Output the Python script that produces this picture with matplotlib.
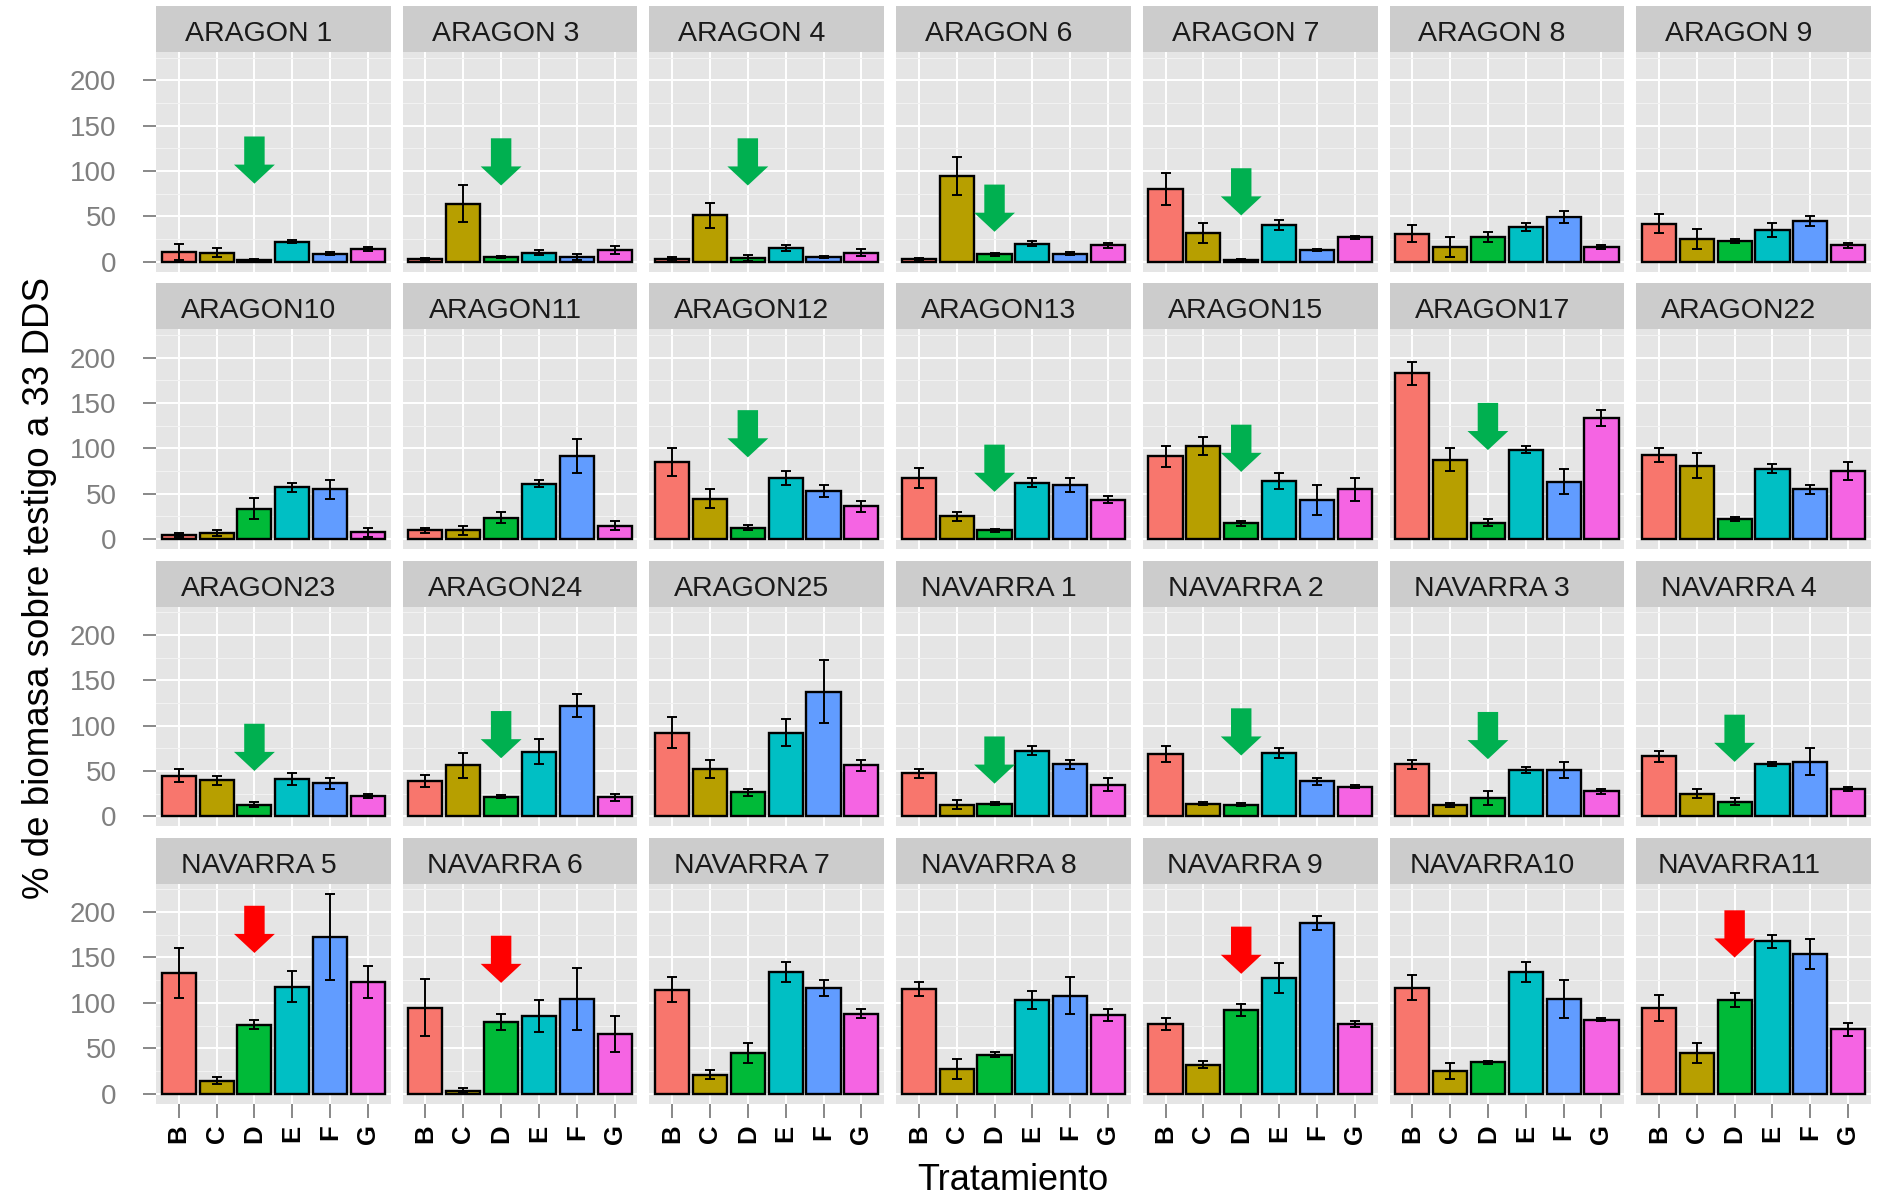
import numpy as np
import matplotlib
matplotlib.use("Agg")
import matplotlib.pyplot as plt
from matplotlib.patches import Rectangle

plt.rcParams['font.family'] = ['Liberation Sans', 'DejaVu Sans']

# data (% biomass vs control, mean and error)
treatments = ['B', 'C', 'D', 'E', 'F', 'G']
sites = ["ARAGON 1", "ARAGON 3", "ARAGON 4", "ARAGON 6", "ARAGON 7", "ARAGON 8", "ARAGON 9",
         "ARAGON10", "ARAGON11", "ARAGON12", "ARAGON13", "ARAGON15", "ARAGON17", "ARAGON22",
         "ARAGON23", "ARAGON24", "ARAGON25", "NAVARRA 1", "NAVARRA 2", "NAVARRA 3", "NAVARRA 4",
         "NAVARRA 5", "NAVARRA 6", "NAVARRA 7", "NAVARRA 8", "NAVARRA 9", "NAVARRA10", "NAVARRA11"]

means = [
    [11, 10, 2, 22, 9, 14],
    [3, 64, 5, 10, 5, 13],
    [3, 51, 4, 15, 5, 10],
    [3, 94, 8, 20, 9, 18],
    [80, 32, 2, 40, 13, 27],
    [31, 16.5, 27.5, 38, 49, 16],
    [42, 25, 23, 35, 45, 18],
    [4.5, 6.5, 33.5, 57, 54.7, 7.3],
    [9.5, 9.5, 23.5, 61, 91, 14.7],
    [84.8, 44.6, 12.5, 67.3, 53, 36],
    [67, 25, 9.5, 62, 59.8, 43.5],
    [91, 102.4, 17.2, 63.5, 43.4, 54.7],
    [182.4, 87.3, 18, 98.5, 63.3, 133.6],
    [92.3, 81, 22, 77.2, 54.7, 74.7],
    [44.8, 39.9, 12.6, 41, 36.2, 22.5],
    [38.6, 56, 21.5, 71, 122, 21],
    [92.3, 52.5, 26.3, 92, 137.3, 56],
    [47.3, 12.6, 14, 72.4, 57.4, 35],
    [68.7, 14, 13, 69.8, 38.5, 32.5],
    [57.4, 12.6, 20, 51, 51, 27.4],
    [66, 25, 16.2, 57.4, 60, 30],
    [133.1, 14.4, 75.7, 118, 172.8, 122.9],
    [94.4, 3.3, 79.4, 85.6, 104.4, 65.6],
    [114.3, 20.7, 44.4, 134.2, 116.6, 88.1],
    [115.4, 27, 43, 103, 108, 86.8],
    [76.8, 32, 92, 126.9, 187.7, 76.8],
    [116.6, 24.5, 34.5, 134.2, 104.2, 81.5],
    [94.3, 44.4, 102.9, 167.8, 154.1, 70.7],
]
errs = [
    [9, 5, 1, 1.5, 2, 2.5],
    [1, 20, 1, 3, 3, 4],
    [2, 14, 3, 3, 1, 4],
    [1, 21, 2, 3, 2, 3],
    [17.7, 11, 0.5, 5.5, 1, 1.5],
    [9, 11, 5.5, 4.5, 6.5, 2],
    [10.5, 10.7, 2.5, 7.6, 5.5, 2.5],
    [2.6, 3.3, 11.5, 5, 10.3, 5],
    [2.5, 5, 6.3, 4, 18.7, 5],
    [15, 10, 2.5, 7.5, 6.4, 6.4],
    [11, 5, 2, 5, 7.5, 4],
    [11.4, 10.3, 2.5, 8.8, 16.4, 12.4],
    [12.5, 12.5, 3.7, 4, 13.8, 8.8],
    [7.5, 14, 2.5, 5, 5, 10],
    [7.5, 5, 2.7, 6.4, 6.2, 2.4],
    [6.4, 13.7, 1.7, 13.7, 12.4, 3.6],
    [17.4, 10, 3.6, 15, 34.9, 6.4],
    [5, 5, 1.5, 5, 5, 7.5],
    [8.8, 1.5, 1.5, 5, 4, 1.5],
    [5, 2.5, 7.5, 3.7, 8.8, 2.5],
    [6.2, 5, 3.8, 2.5, 15, 2.5],
    [27.8, 3.8, 5, 17.5, 47.3, 17.5],
    [31.4, 2.5, 8.8, 17.5, 33.8, 20],
    [13.7, 5, 11.2, 11.3, 8.8, 5],
    [7.5, 11.3, 2.5, 10, 20, 6.4],
    [6.2, 3.8, 6.4, 16.5, 7.5, 3.7],
    [13.9, 8.8, 1.5, 11.3, 21.2, 1.5],
    [13.9, 11.2, 7.5, 7.3, 16.3, 7.5],
]

# annotation arrows above treatment D: site, tip height, colour
arrow_sites = ["ARAGON 1", "ARAGON 3", "ARAGON 4", "ARAGON 6", "ARAGON 7", "ARAGON12", "ARAGON13",
               "ARAGON15", "ARAGON17", "ARAGON23", "ARAGON24", "NAVARRA 1", "NAVARRA 2",
               "NAVARRA 3", "NAVARRA 4", "NAVARRA 5", "NAVARRA 6", "NAVARRA 9", "NAVARRA11"]
arrow_tips = [86, 84, 84, 33, 51, 90, 52, 74, 98, 50, 64, 36, 67, 63, 60, 155, 122, 132, 150]
arrow_cols = ['#00B050'] * 15 + ['#FF0000'] * 4

colors = ['#F8766D', '#B79F00', '#00BA38', '#00BFC4', '#619CFF', '#F564E3']

W, H = 1878, 1196
fig = plt.figure(figsize=(W / 100, H / 100), dpi=100)

x = np.arange(1, len(treatments) + 1)
top = max(m + e for mm, ee in zip(means, errs) for m, e in zip(mm, ee))
ylo, yhi = -0.05 * top, 1.05 * top

pw, gap_x = 234.7, 12.0
strip_h, ph, row_step = 46, 219.7, 277.3

for k, site in enumerate(sites):
    r, c = divmod(k, 7)
    left = 156 + c * (pw + gap_x)
    ptop = 6 + r * row_step + strip_h
    ax = fig.add_axes([left / W, 1 - (ptop + ph) / H, pw / W, ph / H])
    ax.set_facecolor('#E5E5E5')
    ax.set_xlim(0.4, 6.6)
    ax.set_ylim(ylo, yhi)
    ax.set_yticks([0, 50, 100, 150, 200])
    ax.set_yticks([25, 75, 125, 175, 225], minor=True)
    ax.set_xticks(x)
    ax.set_axisbelow(True)
    ax.grid(which='major', color='white', lw=1.4)
    ax.grid(which='minor', axis='y', color='#F2F2F2', lw=0.8)
    for s in ax.spines.values():
        s.set_visible(False)
    ax.tick_params(which='minor', length=0)

    ax.bar(x, means[k], width=0.9, color=colors, edgecolor='black', lw=1.7, zorder=2)
    ax.errorbar(x, means[k], yerr=errs[k], fmt='none', ecolor='black', elinewidth=1.4,
                capsize=3.4, capthick=1.4, zorder=3)

    if c == 0:
        ax.set_yticklabels(['0', '50', '100', '150', '200'])
        ax.tick_params(axis='y', length=9.5, width=1.3, color='#7F7F7F', labelcolor='#7F7F7F',
                       labelsize=20, pad=19)
    else:
        ax.tick_params(axis='y', length=0, labelleft=False)
    if r == 3:
        ax.set_xticklabels(treatments, rotation=90, fontweight='bold')
        ax.tick_params(axis='x', length=10, width=1.3, color='#7F7F7F', labelcolor='black',
                       labelsize=18.5, pad=5)
    else:
        ax.tick_params(axis='x', length=0, labelbottom=False)

    ax.add_patch(Rectangle((0, 1), 1, strip_h / ph, transform=ax.transAxes, clip_on=False,
                           facecolor='#CCCCCC', edgecolor='none'))
    ax.text(0.437, 1 + (strip_h / 2 - 5) / ph, site, transform=ax.transAxes, ha='center',
            va='center', size=20.5, color='#1A1A1A')

    if site in arrow_sites:
        i = arrow_sites.index(site)
        ax.arrow(3, arrow_tips[i] + 52, 0, -52, width=0.54, head_width=1.08, head_length=21,
                 length_includes_head=True, facecolor=arrow_cols[i], edgecolor='none', lw=0,
                 zorder=5)

fig.text(1013 / W, 1 - 1181 / H, 'Tratamiento', ha='center', va='center', size=26)
fig.text(40 / W, 1 - 588 / H, '% de biomasa sobre testigo a 33 DDS', rotation=90,
         ha='center', va='center', size=26.5)

fig.savefig('out.png', dpi=100)
